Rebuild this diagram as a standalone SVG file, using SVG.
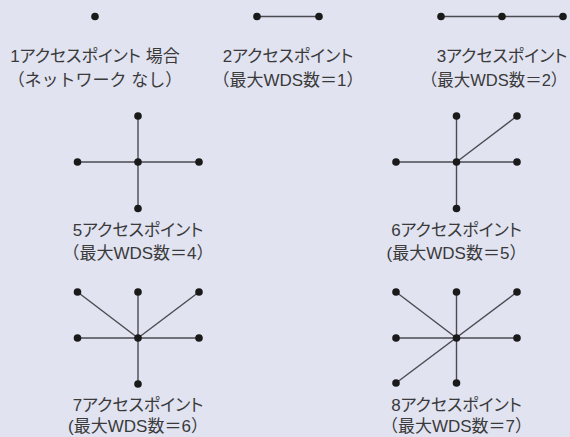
<svg xmlns="http://www.w3.org/2000/svg" width="570" height="437" viewBox="0 0 570 437">
<style>
.bg{fill:#e1e3f1}
.e{stroke:#4a4a4f;stroke-width:1.4;fill:none}
.d{fill:#1a1a1a}
.t{font-family:"Liberation Sans","Noto Sans CJK JP",sans-serif;font-size:17px;fill:#3a3a3a;text-anchor:middle}
.p{font-feature-settings:"palt"}
</style>
<rect class="bg" width="570" height="437"/>
<g id="connectors">
<line class="e" x1="257" y1="16.5" x2="319" y2="16.5"/>
<line class="e" x1="441" y1="16.5" x2="563" y2="16.5"/>
<line class="e" x1="77.5" y1="162" x2="199" y2="162"/>
<line class="e" x1="138" y1="116" x2="138" y2="208.5"/>
<line class="e" x1="396" y1="162" x2="517" y2="162"/>
<line class="e" x1="456.5" y1="116" x2="456.5" y2="208.5"/>
<line class="e" x1="456.5" y1="162" x2="517" y2="116"/>
<line class="e" x1="77.5" y1="338" x2="199" y2="338"/>
<line class="e" x1="138" y1="292" x2="138" y2="384"/>
<line class="e" x1="138" y1="338" x2="77.5" y2="292"/>
<line class="e" x1="138" y1="338" x2="199" y2="292"/>
<line class="e" x1="396" y1="338" x2="517" y2="338"/>
<line class="e" x1="456.5" y1="292" x2="456.5" y2="383"/>
<line class="e" x1="517" y1="292" x2="396" y2="383"/>
<line class="e" x1="396" y1="292" x2="456.5" y2="338"/>
</g>
<g id="n1">
<circle class="d" cx="95" cy="16.5" r="3.8"/>
<text class="t p" x="95" y="62">1アクセスポイント 場合</text>
<text class="t" x="95" y="86">（ネットワーク なし）</text>
</g>
<g id="n2">
<circle class="d" cx="257" cy="16.5" r="3.8"/>
<circle class="d" cx="319" cy="16.5" r="3.8"/>
<text class="t p" x="288" y="62">2アクセスポイント</text>
<text class="t" x="288" y="86">（最大WDS数＝1）</text>
</g>
<g id="n3">
<circle class="d" cx="441" cy="16.5" r="3.8"/>
<circle class="d" cx="502" cy="16.5" r="3.8"/>
<circle class="d" cx="563" cy="16.5" r="3.8"/>
<text class="t p" x="502" y="62">3アクセスポイント</text>
<text class="t" x="494" y="86" style="font-size:16.5px">（最大WDS数＝2）</text>
</g>
<g id="n5">
<circle class="d" cx="138" cy="116" r="3.8"/>
<circle class="d" cx="77.5" cy="162" r="3.8"/>
<circle class="d" cx="138" cy="162" r="3.8"/>
<circle class="d" cx="199" cy="162" r="3.8"/>
<circle class="d" cx="138" cy="208.5" r="3.8"/>
<text class="t p" x="138" y="236">5アクセスポイント</text>
<text class="t" x="138" y="259">（最大WDS数＝4）</text>
</g>
<g id="n6">
<circle class="d" cx="456.5" cy="116" r="3.8"/>
<circle class="d" cx="517" cy="116" r="3.8"/>
<circle class="d" cx="396" cy="162" r="3.8"/>
<circle class="d" cx="456.5" cy="162" r="3.8"/>
<circle class="d" cx="517" cy="162" r="3.8"/>
<circle class="d" cx="456.5" cy="208.5" r="3.8"/>
<text class="t p" x="456.5" y="236">6アクセスポイント</text>
<text class="t" x="456.5" y="259">(最大WDS数＝5）</text>
</g>
<g id="n7">
<circle class="d" cx="77.5" cy="292" r="3.8"/>
<circle class="d" cx="138" cy="292" r="3.8"/>
<circle class="d" cx="199" cy="292" r="3.8"/>
<circle class="d" cx="77.5" cy="338" r="3.8"/>
<circle class="d" cx="138" cy="338" r="3.8"/>
<circle class="d" cx="199" cy="338" r="3.8"/>
<circle class="d" cx="138" cy="384" r="3.8"/>
<text class="t p" x="138" y="411">7アクセスポイント</text>
<text class="t" x="138" y="432">(最大WDS数＝6）</text>
</g>
<g id="n8">
<circle class="d" cx="396" cy="292" r="3.8"/>
<circle class="d" cx="456.5" cy="292" r="3.8"/>
<circle class="d" cx="517" cy="292" r="3.8"/>
<circle class="d" cx="396" cy="338" r="3.8"/>
<circle class="d" cx="456.5" cy="338" r="3.8"/>
<circle class="d" cx="517" cy="338" r="3.8"/>
<circle class="d" cx="396" cy="383" r="3.8"/>
<circle class="d" cx="456.5" cy="383" r="3.8"/>
<text class="t p" x="456.5" y="411">8アクセスポイント</text>
<text class="t" x="456.5" y="432">（最大WDS数＝7）</text>
</g>
</svg>
